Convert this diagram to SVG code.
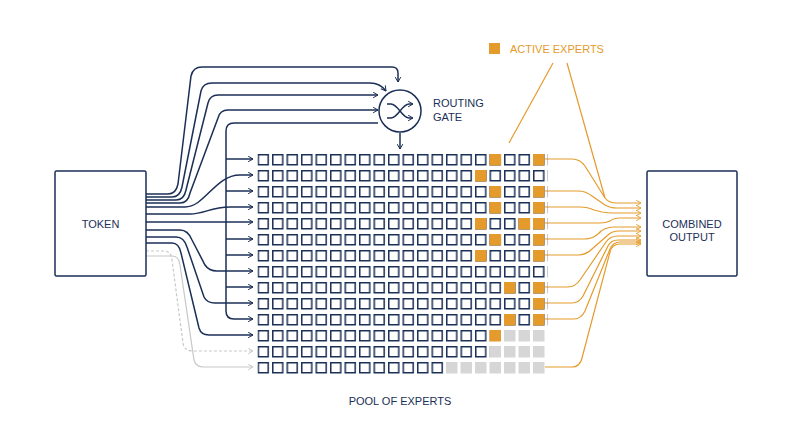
<svg xmlns="http://www.w3.org/2000/svg" width="800" height="447" viewBox="0 0 800 447">
<defs>
<marker id="an" viewBox="0 0 10 10" refX="9" refY="5" markerWidth="7" markerHeight="7" orient="auto" markerUnits="userSpaceOnUse"><path d="M2,1 L9,5 L2,9" fill="none" stroke="#1b2f57" stroke-width="1.4"/></marker>
<marker id="ag" viewBox="0 0 10 10" refX="9" refY="5" markerWidth="7" markerHeight="7" orient="auto" markerUnits="userSpaceOnUse"><path d="M2,1 L9,5 L2,9" fill="none" stroke="#c8c8c8" stroke-width="1.4"/></marker>
<marker id="ao" viewBox="0 0 10 10" refX="9" refY="5" markerWidth="7" markerHeight="7" orient="auto" markerUnits="userSpaceOnUse"><path d="M2,1 L9,5 L2,9" fill="none" stroke="#e49b2c" stroke-width="1.2"/></marker>
<style>
.n{fill:none;stroke:#1b2f57;stroke-width:1.5}
.na{fill:none;stroke:#1b2f57;stroke-width:1.5;marker-end:url(#an)}
.o{fill:none;stroke:#e49b2c;stroke-width:1.2}
.oa{fill:none;stroke:#e49b2c;stroke-width:1.2;marker-end:url(#ao)}
.e{fill:#fff;stroke:#1b2f57;stroke-width:1.5}
.f{fill:#e49b2c}
.g{fill:#d6d6d6}
.t{font-family:"Liberation Sans",Arial,sans-serif;font-size:11px;fill:#1b2f57}
.box{fill:#fff;stroke:#1b2f57;stroke-width:1.5}
</style>
</defs>
<g id="connectors">
<!-- to gate -->
<path class="na" d="M146,194 H168 Q176,194 178,184 L191,76 Q193,67 202,67 H392 Q398,67 398,73 V82"/>
<path class="na" d="M146,197 H172 Q180,197 182,187 L201,91 Q203,83 212,83 H370 Q380,83 386,91"/>
<path class="na" d="M146,200 H176 Q184,200 186,190 L208,103 Q210,95 218,95 H378"/>
<path class="na" d="M146,203 H180 Q188,203 190,193 L218,118 Q220,110 228,110 H378"/>
<!-- bus -->
<path class="na" d="M378,123 H234 Q226,123 226,131 V311 Q226,319 234,319 H253"/>
<path class="na" d="M226,159 H253"/>
<path class="na" d="M226,191 H253"/>
<path class="na" d="M226,239 H253"/>
<path class="na" d="M226,255 H253"/>
<path class="na" d="M226,287 H253"/>
<path class="na" d="M400,133 V149"/>
<!-- token direct rows -->
<path class="na" d="M146,207 H185 C205,207 215,175 240,175 H253"/>
<path class="na" d="M146,214 H190 C205,214 210,207 230,207 H253"/>
<path class="na" d="M146,222 H253"/>
<path class="na" d="M146,230 H180 Q188,230 192,240 L205,265 Q209,271 217,271 H253"/>
<path class="na" d="M146,237 H176 Q184,237 187,247 L204,297 Q207,303 215,303 H253"/>
<path class="na" d="M146,243 H172 Q179,243 181,253 L199,328 Q201,335 209,335 H253"/>
<path fill="none" stroke="#c8c8c8" stroke-width="1.2" stroke-dasharray="3,2" marker-end="url(#ag)" d="M146,251 H164 Q171,251 172,260 L183,343 Q184,351 193,351 H253"/>
<path fill="none" stroke="#c8c8c8" stroke-width="1.2" marker-end="url(#ag)" d="M146,256 H172 Q179,256 180,265 L194,360 Q196,367 204,367 H253"/>
<!-- outputs -->
<path class="oa" d="M545,159 H572 Q580,159 585,166 L605,198 Q609,203 616,203 H641"/>
<path class="oa" d="M545,191 H578 Q586,191 592,196 L605,205 Q610,208 617,208 H641"/>
<path class="oa" d="M545,207 H580 Q588,207 594,210 L602,212 Q607,213 614,213 H641"/>
<path class="oa" d="M545,223 H600 Q606,223 610,221 Q614,218 620,218 H641"/>
<path class="oa" d="M545,239 H585 Q592,239 598,234 Q604,227 614,227 H641"/>
<path class="oa" d="M545,255 H578 Q586,255 592,249 L608,235 Q612,231 619,231 H641"/>
<path class="oa" d="M545,287 H568 Q575,287 580,280 L606,242 Q610,236 618,236 H641"/>
<path class="oa" d="M545,303 H572 Q579,303 583,296 L608,246 Q611,240 618,240 H641"/>
<path class="oa" d="M545,319 H574 Q581,319 585,311 L610,249 Q613,242 620,242 H641"/>
<path class="oa" d="M545,367 H572 Q580,367 582,358 L610,252 Q612,244 620,244 H641"/>
<path class="o" d="M553,63 L509,143"/>
<path class="o" d="M567,63 L605,198"/>
</g>
<g id="token"><rect class="box" x="55" y="171" width="91" height="105" rx="1.5"/><text class="t" x="100.5" y="228" text-anchor="middle">TOKEN</text></g>
<g id="output"><rect class="box" x="647" y="171" width="90" height="105" rx="1.5"/><text class="t" x="692" y="228" text-anchor="middle">COMBINED</text><text class="t" x="692" y="241" text-anchor="middle">OUTPUT</text></g>
<g id="gate">
<circle cx="400" cy="111" r="21" fill="#fff" stroke="#1b2f57" stroke-width="1.5"/>
<path class="na" d="M387,104 H391 C398,104 402,118 409,118 H413"/>
<path class="na" d="M387,118 H391 C398,118 402,104 409,104 H413"/>
<text class="t" x="433" y="107">ROUTING</text><text class="t" x="433" y="121">GATE</text>
</g>
<g id="legend"><rect class="f" x="489" y="43" width="11" height="11"/><text class="t" x="510" y="53" style="fill:#e49b2c">ACTIVE EXPERTS</text></g>
<g id="pool">
<g id="grid"></g>
<text class="t" x="400" y="405" text-anchor="middle">POOL OF EXPERTS</text>
</g>
<g id="experts">
<!-- rows generated manually -->
<g transform="translate(257.5,154)">
<!-- row template helper: each row as use of pattern -->
</g>
</g>
<defs>
<pattern id="pe" x="257.5" y="154" width="14.5" height="16" patternUnits="userSpaceOnUse"><rect x="0.75" y="0.75" width="10" height="10" fill="#fff" stroke="#1b2f57" stroke-width="1.5"/></pattern>
</defs>
<g id="pool-grid">
<rect x="257.5" y="154" width="290" height="176" fill="url(#pe)"/>
<rect x="257.5" y="330" width="232" height="32" fill="url(#pe)"/>
<rect x="257.5" y="362" width="188.5" height="16" fill="url(#pe)"/>
<g class="f">
<rect x="489.5" y="154" width="11.5" height="11.5"/><rect x="533" y="154" width="11.5" height="11.5"/>
<rect x="475" y="170" width="11.5" height="11.5"/>
<rect x="489.5" y="186" width="11.5" height="11.5"/><rect x="533" y="186" width="11.5" height="11.5"/>
<rect x="489.5" y="202" width="11.5" height="11.5"/><rect x="533" y="202" width="11.5" height="11.5"/>
<rect x="475" y="218" width="11.5" height="11.5"/><rect x="518.5" y="218" width="11.5" height="11.5"/><rect x="533" y="218" width="11.5" height="11.5"/>
<rect x="489.5" y="234" width="11.5" height="11.5"/><rect x="533" y="234" width="11.5" height="11.5"/>
<rect x="475" y="250" width="11.5" height="11.5"/><rect x="533" y="250" width="11.5" height="11.5"/>
<rect x="504" y="282" width="11.5" height="11.5"/><rect x="533" y="282" width="11.5" height="11.5"/>
<rect x="533" y="298" width="11.5" height="11.5"/>
<rect x="504" y="314" width="11.5" height="11.5"/><rect x="533" y="314" width="11.5" height="11.5"/>
<rect x="489.5" y="330" width="11.5" height="11.5"/>
</g>
<g class="g">
<rect x="504" y="330" width="11.5" height="11.5"/><rect x="518.5" y="330" width="11.5" height="11.5"/><rect x="533" y="330" width="11.5" height="11.5"/>
<rect x="489.5" y="346" width="11.5" height="11.5"/><rect x="504" y="346" width="11.5" height="11.5"/><rect x="518.5" y="346" width="11.5" height="11.5"/><rect x="533" y="346" width="11.5" height="11.5"/>
<rect x="446" y="362" width="11.5" height="11.5"/><rect x="460.5" y="362" width="11.5" height="11.5"/><rect x="475" y="362" width="11.5" height="11.5"/><rect x="489.5" y="362" width="11.5" height="11.5"/><rect x="504" y="362" width="11.5" height="11.5"/><rect x="518.5" y="362" width="11.5" height="11.5"/><rect x="533" y="362" width="11.5" height="11.5"/>
</g>
</g>
</svg>
